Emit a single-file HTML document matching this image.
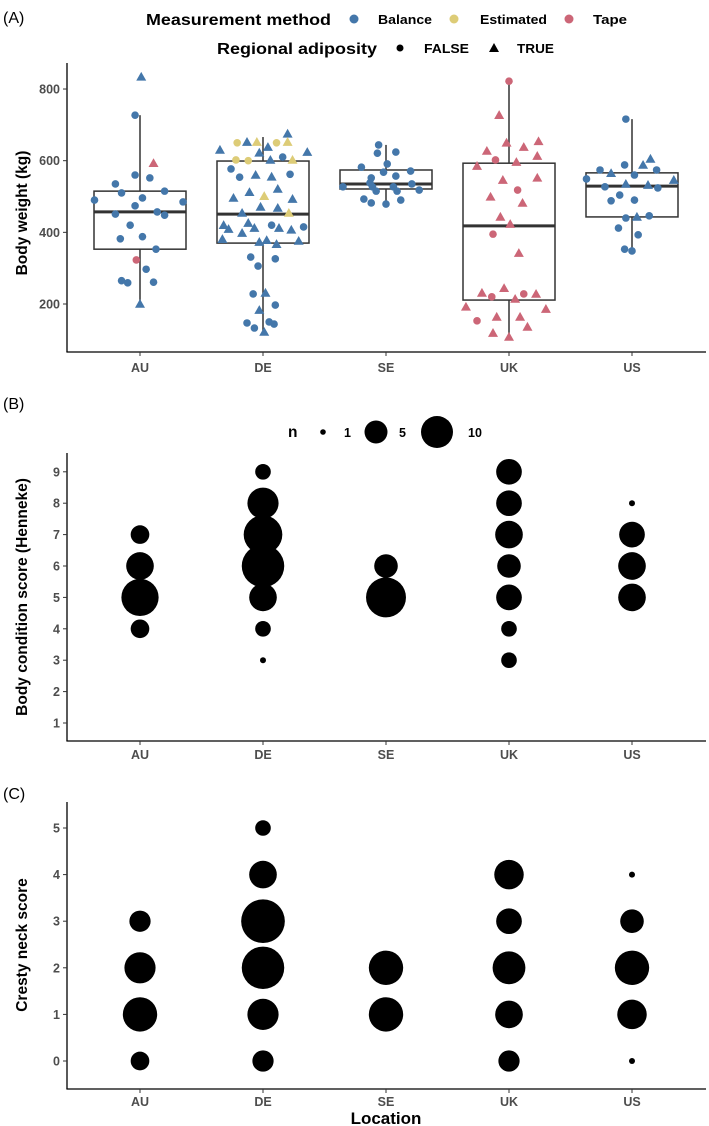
<!DOCTYPE html>
<html><head><meta charset="utf-8"><style>
html,body{margin:0;padding:0;background:#fff;}
svg{display:block;font-family:"Liberation Sans",sans-serif;}
.tk{font-size:12.5px;font-weight:bold;fill:#4d4d4d;}
.ttl{font-size:15.5px;font-weight:bold;fill:#000;}
.lg{font-size:12.5px;font-weight:bold;fill:#000;}
.pl{font-size:16px;fill:#000;}
</style></head><body>
<svg id="fig" width="709" height="1126" viewBox="0 0 709 1126" xmlns="http://www.w3.org/2000/svg">
<text class="pl" x="3" y="23">(A)</text>
<text class="pl" x="3" y="409">(B)</text>
<text class="pl" x="3" y="799">(C)</text>
<g>
<text class="ttl" x="146" y="25" textLength="185" lengthAdjust="spacingAndGlyphs">Measurement method</text>
<circle cx="354" cy="19" r="4.5" fill="#4477AA"/>
<text class="lg" x="378" y="24" textLength="54" lengthAdjust="spacingAndGlyphs">Balance</text>
<circle cx="454" cy="19" r="4.5" fill="#DDCC77"/>
<text class="lg" x="480" y="24" textLength="67" lengthAdjust="spacingAndGlyphs">Estimated</text>
<circle cx="569" cy="19" r="4.5" fill="#CC6677"/>
<text class="lg" x="593" y="24" textLength="34" lengthAdjust="spacingAndGlyphs">Tape</text>
</g>
<g>
<text class="ttl" x="217" y="54" textLength="160" lengthAdjust="spacingAndGlyphs">Regional adiposity</text>
<circle cx="400" cy="48" r="3.5" fill="#000"/>
<text class="lg" x="424" y="53" textLength="45" lengthAdjust="spacingAndGlyphs">FALSE</text>
<polygon points="494,43 499,52 489,52" fill="#000"/>
<text class="lg" x="517" y="53" textLength="37" lengthAdjust="spacingAndGlyphs">TRUE</text>
</g>
<g>
<text class="ttl" x="288" y="437">n</text>
<circle cx="323" cy="432" r="2.8" fill="#000"/>
<text class="lg" x="344" y="437">1</text>
<circle cx="376" cy="432" r="11.5" fill="#000"/>
<text class="lg" x="399" y="437">5</text>
<circle cx="437" cy="432" r="16" fill="#000"/>
<text class="lg" x="468" y="437">10</text>
</g>
<g id="gA"></g>
<g id="gB"></g>
<g id="gC"></g>
</svg>
<script>
const locations = ["AU","DE","SE","UK","US"];
// Panel A: body weight points
const weights = [
 [834,727,593,560,552,535,510,515,490,496,485,474,451,457,448,420,382,388,353,323,297,265,259,261,200],
 [675,650,652,652,650,652,630,622,638,624,602,600,602,610,602,577,554,560,555,562,496,512,501,521,493,471,468,454,454,420,409,426,412,420,412,407,415,398,381,373,378,367,376,331,306,326,228,231,183,197,147,133,150,144,122],
 [644,621,624,591,582,571,568,557,552,538,535,527,527,527,515,518,515,493,482,490,479],
 [822,727,650,627,638,654,613,602,596,585,546,552,518,499,482,443,423,395,342,231,244,220,228,214,228,192,186,153,164,164,136,119,108],
 [716,574,565,588,588,605,574,560,546,549,527,535,532,524,504,488,490,440,443,446,412,393,353,348]
];
const jitters = [
 [.01,-.04,.11,-.04,.08,-.2,-.15,.2,-.37,.02,.35,-.04,-.2,.14,.2,-.08,-.16,.02,.13,-.03,.05,-.15,-.1,.11,0],
 [.2,-.21,-.13,-.05,.11,.2,-.35,-.03,.04,.36,-.22,-.12,.06,.16,.24,-.26,-.19,-.06,.07,.22,-.24,-.11,.01,.12,.24,-.02,.12,-.17,.21,-.32,-.28,-.12,-.07,.07,.13,.23,.33,-.17,-.33,-.03,.03,.11,.29,-.1,-.04,.1,-.08,.02,-.03,.1,-.13,-.07,.05,.09,.01],
 [-.06,-.07,.08,.01,-.2,.2,-.02,.08,-.12,-.13,.21,-.35,-.11,.06,.09,.27,-.08,-.18,-.12,.12,0],
 [0,-.08,-.02,-.18,.12,.24,.23,-.11,.06,-.26,-.05,.23,.07,-.15,.11,-.07,.01,-.13,.08,-.22,-.04,-.14,.12,.05,.22,-.35,.3,-.26,-.1,.09,.15,-.13,0],
 [-.05,-.26,-.17,-.06,.09,.15,.2,.02,.34,-.37,-.22,-.05,.13,.21,-.1,-.17,.02,-.05,.04,.14,-.11,.05,-.06,0]
];
const methods = [
 "BBTBBBBBBBBBBBBBBBBTBBBBB",
 "BEBEEEBBBBEEBBEBBBBBBBEBBBBBEBBBBBBBBBBBBBBBBBBBBBBBBBB",
 "BBBBBBBBBBBBBBBBBBBBB",
 "TTTTTTTTTTTTTTTTTTTTTTTTTTTTTTTTT",
 "BBBBBBBBBBBBBBBBBBBBBBBB"
];
const shapes = [
 "TCTCCCCCCCCCCCCCCCCCCCCCT",
 "TCTTCTTTTTCCTCTCCTTCTTTTTTTTTTTTTCTTCTTTTTTCCCCTTCCCCCT",
 "CCCCCCCCCCCCCCCCCCCCC",
 "CTTTTTTCTTTTCTTTTCTTTCCTTTTCTTTTT",
 "CCTCTTCCTCCTTCCCCCTCCCCC"
];
const boxLo  = [200,122,482,108,348];
const boxQ1  = [353,370,521,211,443];
const boxMed = [457,451,535,418,529];
const boxQ3  = [515,599,574,593,566];
const boxHi  = [727,666,644,822,716];
const weightTicks = [200,400,600,800];
// Panel B: body condition score counts
const bcsScores = [
 [7,6,5,4],
 [9,8,7,6,5,4,3],
 [6,5],
 [9,8,7,6,5,4,3],
 [8,7,6,5]
];
const bcsCounts = [
 [4,8,14,4],
 [3,10,15,18,8,3,1],
 [6,16],
 [7,7,8,6,7,3,3],
 [1,7,8,8]
];
const bcsTicks = [1,2,3,4,5,6,7,8,9];
// Panel C: cresty neck score counts
const cnsScores = [
 [3,2,1,0],
 [5,4,3,2,1,0],
 [2,1],
 [4,3,2,1,0],
 [4,3,2,1,0]
];
const cnsCounts = [
 [5,10,12,4],
 [3,8,19,18,10,5],
 [12,12],
 [9,7,11,8,5],
 [1,6,12,9,1]
];
const cnsTicks = [0,1,2,3,4,5];
const colors = {B:"#4477AA",E:"#DDCC77",T:"#CC6677"};
const NS = "http://www.w3.org/2000/svg";
function mk(parent, tag, attrs){ const e=document.createElementNS(NS,tag); for(const k in attrs) e.setAttribute(k,attrs[k]); parent.appendChild(e); return e; }
const xCat = i => 140 + i*123;
const yA = v => 304 - (v-200)*0.3583;
const yB = s => 723 - (s-1)*31.4;
const yC = s => 1061 - s*46.6;
const rSize = n => Math.sqrt(Math.max(6, 9 + 26*(n-1)));

function axes(g, top, bottom, yFn, ticks, title, titleY, prefix, lblOff){
  let e;
  e = mk(g,"line",{x1:67,y1:top,x2:67,y2:bottom,stroke:"#000","stroke-width":1.3});
  
  
  e = mk(g,"line",{x1:66.4,y1:bottom,x2:706,y2:bottom,stroke:"#000","stroke-width":1.3});
  
  
  ticks.forEach(t=>{
    const y=yFn(t);
    e = mk(g,"line",{x1:63,y1:y,x2:67,y2:y,stroke:"#333","stroke-width":1});
    
    
    e = mk(g,"text",{x:60,y:y+4.5,"text-anchor":"end",class:"tk"});
    e.textContent=t;
    
    
  });
  locations.forEach((l,i)=>{
    const x=xCat(i);
    e = mk(g,"line",{x1:x,y1:bottom,x2:x,y2:bottom+4,stroke:"#333","stroke-width":1});
    
    
    e = mk(g,"text",{x:x,y:bottom+lblOff,"text-anchor":"middle",class:"tk"});
    e.textContent=l;
    
    
  });
  e = mk(g,"text",{x:0,y:0,"text-anchor":"middle",class:"ttl",transform:"translate(27,"+titleY+") rotate(-90)"});
  e.textContent=title;
  
  
}

// Panel A
const gA=document.getElementById("gA");
axes(gA,63,352,yA,weightTicks,"Body weight (kg)",213,"panel-a",20);
locations.forEach((l,i)=>{
  const x=xCat(i), hw=46;
  let e;
  e = mk(gA,"line",{x1:x,y1:yA(boxHi[i]),x2:x,y2:yA(boxQ3[i]),stroke:"#333","stroke-width":1.5});
  
  
  e = mk(gA,"line",{x1:x,y1:yA(boxQ1[i]),x2:x,y2:yA(boxLo[i]),stroke:"#333","stroke-width":1.5});
  
  
  e = mk(gA,"rect",{x:x-hw,y:yA(boxQ3[i]),width:2*hw,height:yA(boxQ1[i])-yA(boxQ3[i]),fill:"#fff",stroke:"#333","stroke-width":1.5});
  
  
  e = mk(gA,"line",{x1:x-hw,y1:yA(boxMed[i]),x2:x+hw,y2:yA(boxMed[i]),stroke:"#333","stroke-width":3});
  
  
});
locations.forEach((l,i)=>{
  weights[i].forEach((w,k)=>{
    const x=xCat(i+jitters[i][k]), y=yA(w), c=colors[methods[i][k]];
    let e;
    if(shapes[i][k]==="T"){
      e = mk(gA,"polygon",{points:(x)+","+(y-5)+" "+(x+5)+","+(y+3.8)+" "+(x-5)+","+(y+3.8),fill:c});
    } else {
      e = mk(gA,"circle",{cx:x,cy:y,r:3.8,fill:c});
    }
    
    
  });
});

// Panel B
const gB=document.getElementById("gB");
axes(gB,453,741,yB,bcsTicks,"Body condition score (Henneke)",597,"panel-b",18);
locations.forEach((l,i)=>{
  bcsScores[i].forEach((s,k)=>{
    const e = mk(gB,"circle",{cx:xCat(i),cy:yB(s),r:rSize(bcsCounts[i][k]),fill:"#000"});
    
    
  });
});

// Panel C
const gC=document.getElementById("gC");
axes(gC,802,1089,yC,cnsTicks,"Cresty neck score",945,"panel-c",17);
locations.forEach((l,i)=>{
  cnsScores[i].forEach((s,k)=>{
    const e = mk(gC,"circle",{cx:xCat(i),cy:yC(s),r:rSize(cnsCounts[i][k]),fill:"#000"});
    
    
  });
});
const xt = mk(gC,"text",{x:386,y:1124,"text-anchor":"middle",class:"ttl",style:"font-size:17px"});
xt.textContent="Location";


</script>
</body></html>
